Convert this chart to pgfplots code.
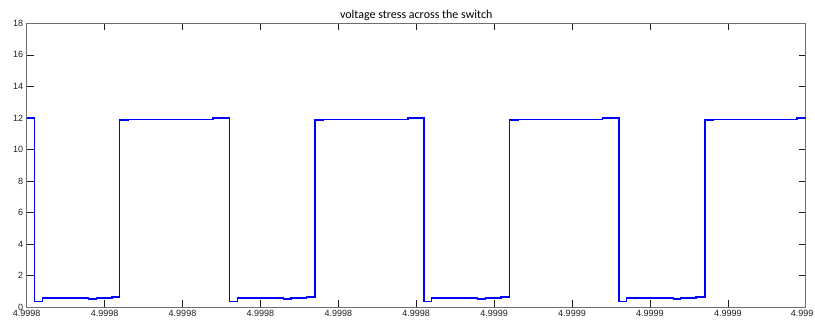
\documentclass[border=0pt]{standalone}
\usepackage{pgfplots}
\pgfplotsset{compat=1.18}
\usepackage{fontspec}
\setmainfont{Liberation Sans}
\newfontfamily\titlefont{Carlito}
\definecolor{mblue}{RGB}{0,0,255}
\definecolor{axgray}{RGB}{110,110,110}
\definecolor{lblgray}{RGB}{30,30,30}
\begin{document}
\begin{tikzpicture}
\path[use as bounding box] (0pt,0pt) rectangle (815pt,320pt);
\begin{axis}[
  at={(26.7pt,12.7pt)}, anchor=south west,
  scale only axis, width=779pt, height=284pt,
  xmin=0, xmax=100, ymin=0, ymax=18,
  xtick={0,10,...,100},
  xticklabels={4.9998,4.9998,4.9998,4.9998,4.9998,4.9998,4.9999,4.9999,4.9999,4.9999,4.999\hspace*{7pt}},
  ytick={0,2,...,18},
  tick align=inside,
  xtick pos=both, ytick pos=both,
  major tick length=7pt,
  axis line style={axgray, line width=0.8pt},
  major tick style={lblgray, line width=0.6pt},
  tick label style={font=\fontsize{9}{10}\selectfont, text=lblgray},
  xticklabel style={yshift=1pt},
  /pgf/number format/assume math mode=true,
  title={voltage stress across the switch},
  title style={font=\titlefont\fontsize{12}{14}\selectfont, yshift=-7pt},
]
\addplot[draw=mblue, line width=1.4pt, sharp plot, mark=none] coordinates {
(0,12.0) (1.03,12.0)
(1.03,0.38) (2.03,0.38) (2.03,0.58) (7.93,0.58) (7.93,0.53) (8.93,0.53) (8.93,0.60) (10.93,0.60) (10.93,0.64) (11.95,0.64)
(11.95,11.86) (13.05,11.86) (13.05,11.92) (23.93,11.92) (23.93,12.0) (26.03,12.0)
(26.03,0.38) (27.03,0.38) (27.03,0.58) (32.93,0.58) (32.93,0.53) (33.93,0.53) (33.93,0.60) (35.93,0.60) (35.93,0.64) (37.0,0.64)
(37.0,11.86) (38.1,11.86) (38.1,11.92) (48.93,11.92) (48.93,12.0) (51.0,12.0)
(51.0,0.38) (52.0,0.38) (52.0,0.58) (57.9,0.58) (57.9,0.53) (58.9,0.53) (58.9,0.60) (60.9,0.60) (60.9,0.64) (62.0,0.64)
(62.0,11.86) (63.1,11.86) (63.1,11.92) (73.9,11.92) (73.9,12.0) (76.05,12.0)
(76.05,0.38) (77.0,0.38) (77.0,0.58) (83.0,0.58) (83.0,0.53) (83.9,0.53) (83.9,0.60) (85.9,0.60) (85.9,0.64) (87.05,0.64)
(87.05,11.86) (88.15,11.86) (88.15,11.92) (98.9,11.92) (98.9,12.0) (100,12.0)
};
\end{axis}
\end{tikzpicture}
\end{document}
